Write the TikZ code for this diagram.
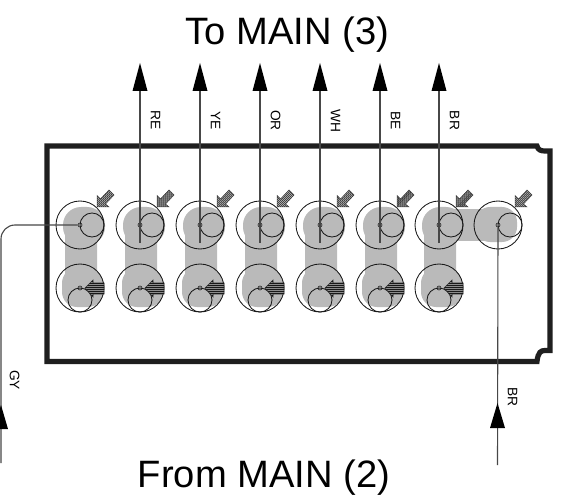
\documentclass[tikz,border=0pt]{standalone}
\usepackage{fontspec}
\setmainfont{Liberation Sans}
\usetikzlibrary{patterns,arrows.meta}
\pgfdeclarepatternformonly{finediag}{\pgfqpoint{-0.5pt}{-0.5pt}}{\pgfqpoint{2.5pt}{2.5pt}}{\pgfqpoint{2pt}{2pt}}{
  \pgfsetlinewidth{0.55pt}
  \pgfpathmoveto{\pgfqpoint{-0.5pt}{-0.5pt}}
  \pgfpathlineto{\pgfqpoint{2.5pt}{2.5pt}}
  \pgfusepath{stroke}
}
\pgfdeclarepatternformonly{finehoriz}{\pgfqpoint{0pt}{0pt}}{\pgfqpoint{2pt}{1.5pt}}{\pgfqpoint{2pt}{1.5pt}}{
  \pgfsetlinewidth{0.85pt}
  \pgfpathmoveto{\pgfqpoint{0pt}{0.75pt}}
  \pgfpathlineto{\pgfqpoint{2pt}{0.75pt}}
  \pgfusepath{stroke}
}
\tikzset{
  frameline/.style={draw=black!88,line width=5.2bp,line join=miter},
  bigc/.style={circle,draw=black!90,line width=0.85bp,minimum size=48bp,inner sep=0pt},
  smallc/.style={circle,draw=black!90,line width=0.85bp,minimum size=24bp,inner sep=0pt},
  pin/.style={circle,draw=black!90,line width=0.6bp,minimum size=4bp,inner sep=0pt},
  blob/.style={fill=black!27,draw=none},
  wire/.style={draw=black!72,line width=1.1bp},
  headtri/.style={fill=black,draw=none},
  lab/.style={font=\fontsize{13.8}{14}\selectfont,rotate=-90,inner sep=0pt},
  title/.style={font=\fontsize{38.3}{40}\selectfont,inner sep=0pt,anchor=base},
  hatchd/.style={fill=black!20,draw=black!70,line width=0.5bp,postaction={pattern=finediag,pattern color=black!80}},
  hatchh/.style={fill=black!45,draw=black!80,line width=0.6bp,postaction={pattern=finehoriz,pattern color=black!90}}
}
\begin{document}
\begin{tikzpicture}[x=1bp,y=-1bp]
\useasboundingbox (0,0) rectangle (562,499);
% grey blobs
\foreach \c/\x in {a/80,b/140,c/200,d/260,e/320,f/380,g/439}{
  \fill[blob,rounded corners=8bp] (\x-15,225) rectangle (\x+17,300);
  \fill[blob,rounded corners=18bp] (\x-17,207) rectangle (\x+25,245);
  \fill[blob,rounded corners=15bp] (\x-18,268) rectangle (\x+23,307);
}
\fill[blob] (445,209) rectangle (500,241);
\fill[blob,rounded corners=15bp] (475,207) rectangle (517,242);
% frame
\draw[frameline] (537,146) .. controls (538,150) and (541,151) .. (545,151) -- (550,151) -- (550,350.5) -- (545,350.5) .. controls (541,350.5) and (538,352) .. (537,361.5) -- (47,361.5) -- (47,146) -- cycle;
% circles
\foreach \c/\x in {a/80,b/140,c/200,d/260,e/320,f/380,g/439}{
  \node[bigc] (top\c) at (\x,225) {};
  \node[smallc] (tops\c) at (\x+12,225) {};
  \node[bigc] (bot\c) at (\x,288) {};
  \node[smallc] (bots\c) at (\x,300) {};
  \node[pin] (pt\c) at (\x,225) {};
  \node[pin] (pb\c) at (\x,288) {};
  \draw[hatchd] (\x+17,207) -- (\x+17,195.5) -- (\x+20.5,199) -- (\x+29,190) -- (\x+34,195) -- (\x+25.5,204) -- (\x+29,207) -- cycle;
  \draw[hatchh] (\x+5,288) -- (\x+13,280) -- (\x+13,283) -- (\x+24,283) -- (\x+24,294) -- (\x+13,294) -- (\x+13,297) -- cycle;
}
\node[bigc] (toph) at (498,225) {};
\node[smallc] (topsh) at (510,225) {};
\node[pin] (pth) at (498,225) {};
\draw[hatchd] (515,207) -- (515,195.5) -- (518.5,199) -- (527,190) -- (532,195) -- (523.5,204) -- (527,207) -- cycle;
% wires
\foreach \c/\x/\t in {b/140/RE,c/200/YE,d/260/OR,e/320/WH,f/380/BE,g/439/BR}{
  \coordinate (e\c) at (\x,243);
  \coordinate (h\c) at (\x,70);
  \draw[wire] (e\c) -- (h\c);
  \fill[headtri] (\x,63) -- (\x+7.5,91) -- (\x-7.5,91) -- cycle;
  \node[lab] (l\c) at (\x+15.5,120.5) {\t};
}
\coordinate (gyend) at (1,463);
\draw[wire,rounded corners=14bp] (pta.west) -- (1,225) -- (gyend);
\fill[headtri] (1,405) -- (8,429) -- (-6,429) -- cycle;
\node[lab] (lgy) at (14.5,380) {GY};
\coordinate (brend) at (497.5,465);
\draw[wire] (pth.south) -- (brend);
\fill[headtri] (497.5,403) -- (505,428) -- (490,428) -- cycle;
\node[lab] (lbr) at (512.5,397) {BR};
% titles
\node[title] (tt) at (287.5,45) {To MAIN (3)};
\node[title] (ft) at (264,487) {From MAIN (2)};
\end{tikzpicture}
\end{document}
